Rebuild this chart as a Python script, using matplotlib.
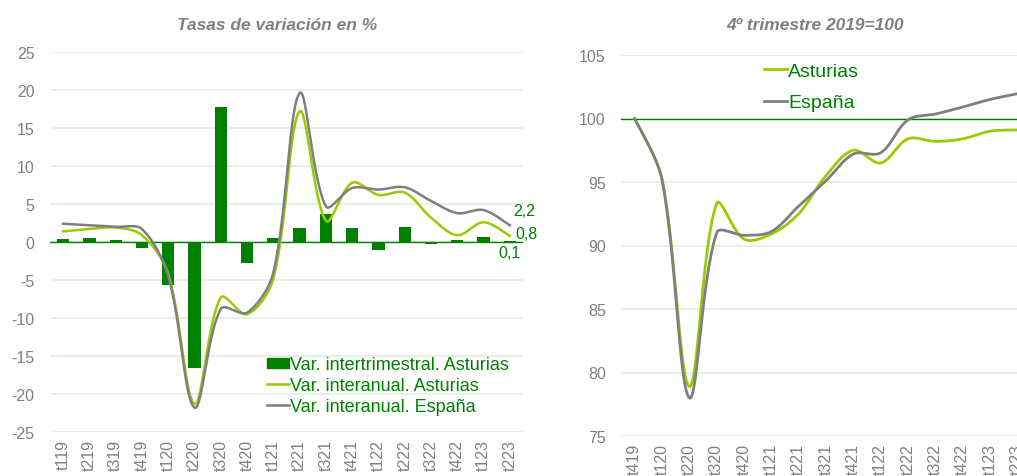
import numpy as np
import matplotlib
matplotlib.use("Agg")
import matplotlib.pyplot as plt
from matplotlib.patches import Patch
from matplotlib.lines import Line2D

plt.rcParams['font.family'] = ['Liberation Sans', 'DejaVu Sans']
plt.rcParams['axes.unicode_minus'] = False

# ── data ─────────────────────────────────────────────
trim_left = ["t119", "t219", "t319", "t419", "t120", "t220", "t320", "t420", "t121",
             "t221", "t321", "t421", "t122", "t222", "t322", "t422", "t123", "t223"]
var_trim_ast = [0.4, 0.5, 0.3, -0.8, -5.6, -16.6, 17.8, -2.7, 0.5,
                1.8, 3.7, 1.9, -1.1, 2.0, -0.3, 0.3, 0.7, 0.1]
var_anual_ast = [1.4, 1.7, 1.9, 0.9, -4.2, -21.3, -7.3, -9.5, -4.8,
                 17.2, 2.8, 7.8, 6.2, 6.5, 3.2, 0.9, 2.6, 0.8]
var_anual_esp = [2.4, 2.2, 2.0, 1.7, -4.5, -21.8, -8.8, -9.3, -4.0,
                 19.6, 4.7, 7.1, 6.9, 7.2, 5.4, 3.8, 4.2, 2.2]

trim_right = ["t419", "t120", "t220", "t320", "t420", "t121", "t221", "t321",
              "t421", "t122", "t222", "t322", "t422", "t123", "t223"]
indice_ast = [100, 95.2, 78.9, 93.3, 90.5, 90.9, 92.5, 95.5,
              97.5, 96.5, 98.4, 98.2, 98.4, 99.0, 99.1]
indice_esp = [100, 95.2, 78.0, 91.0, 90.8, 91.1, 93.1, 95.1,
              97.2, 97.3, 99.9, 100.35, 100.9, 101.5, 101.95]

# ── colours ──────────────────────────────────────────
DARK_GREEN = "#008000"
LIGHT_GREEN = "#99CC00"
GREY = "#7F7F7F"
GRID = "#E3EEE0"
TXT_GREY = "#808080"


def smooth(ax, y, n=30):
    """Línea suavizada estilo Excel: Bezier en coordenadas de pantalla,
    con tangentes repartidas según la longitud de cada tramo."""
    x = np.arange(len(y), dtype=float)
    P = ax.transData.transform(np.column_stack([x, np.asarray(y, dtype=float)]))
    t = np.linspace(0, 1, n, endpoint=False)[:, None]
    out = []
    m = len(P)
    for i in range(m - 1):
        p0, p1, p2 = P[max(i - 1, 0)], P[i], P[i + 1]
        p3 = P[min(i + 2, m - 1)]
        d01 = np.hypot(*(p1 - p0)); d12 = np.hypot(*(p2 - p1)); d23 = np.hypot(*(p3 - p2))
        c1 = p1 + (p2 - p0) * (d12 / (d01 + d12) / 3 if d01 > 0 else 1 / 3 * 0.5)
        c2 = p2 - (p3 - p1) * (d12 / (d12 + d23) / 3 if d23 > 0 else 1 / 3 * 0.5)
        b = (1 - t)**3 * p1 + 3 * (1 - t)**2 * t * c1 + 3 * (1 - t) * t**2 * c2 + t**3 * p2
        out.append(b)
    out.append(P[-1:])
    D = ax.transData.inverted().transform(np.vstack(out))
    return D[:, 0], D[:, 1]


def style_axes(ax, xpad=5):
    for s in ax.spines.values():
        s.set_visible(False)
    ax.tick_params(axis='both', length=0, colors=TXT_GREY, labelsize=11.5)
    ax.tick_params(axis='y', pad=11)
    ax.tick_params(axis='x', pad=xpad)
    ax.grid(axis='y', color=GRID, linewidth=1.2)
    ax.set_axisbelow(True)


fig = plt.figure(figsize=(10.17, 4.77), dpi=100)

# ── izquierda: tasas de variación ────────────────────
ax1 = fig.add_axes([50 / 1017, 44 / 477, 473 / 1017, 380 / 477])
x1 = np.arange(len(trim_left))
ax1.set_xlim(-0.5, len(trim_left) - 0.5)
ax1.set_ylim(-25, 25)
ax1.set_yticks(range(-25, 26, 5))
ax1.set_xticks(x1)
ax1.set_xticklabels(trim_left, rotation=90)
style_axes(ax1)

ax1.bar(x1, var_trim_ast, width=0.47, color=DARK_GREEN, zorder=2)
ax1.axhline(0, color=DARK_GREEN, linewidth=1.0, zorder=2)
sx, sy = smooth(ax1, var_anual_ast)
ax1.plot(sx, sy, color=LIGHT_GREEN, linewidth=1.8, zorder=3)
sx, sy = smooth(ax1, var_anual_esp)
ax1.plot(sx, sy, color=GREY, linewidth=1.8, zorder=3)

last = len(trim_left) - 1
ax1.annotate(f"{var_anual_esp[-1]:.1f}".replace(".", ","), (last, var_anual_esp[-1]),
             xytext=(10, 11), textcoords='offset points', color=DARK_GREEN,
             fontsize=11.5, ha='center', va='center', annotation_clip=False)
ax1.annotate(f"{var_anual_ast[-1]:.1f}".replace(".", ","), (last, var_anual_ast[-1]),
             xytext=(12, 2), textcoords='offset points', color=DARK_GREEN,
             fontsize=11.5, ha='center', va='center', annotation_clip=False)
ax1.annotate(f"{var_trim_ast[-1]:.1f}".replace(".", ","), (last, var_trim_ast[-1]),
             xytext=(0, -8), textcoords='offset points', color=DARK_GREEN,
             fontsize=11.5, ha='center', va='center', annotation_clip=False)

handles1 = [Patch(color=DARK_GREEN),
            Line2D([], [], color=LIGHT_GREEN, linewidth=1.8),
            Line2D([], [], color=GREY, linewidth=1.8)]
labels1 = ["Var. intertrimestral. Asturias", "Var. interanual. Asturias",
           "Var. interanual. España"]
leg1 = ax1.legend(handles1, labels1, loc='upper left', bbox_to_anchor=(0.459, 0.199),
                  frameon=False, fontsize=13, borderpad=0, borderaxespad=0,
                  handlelength=1.2, handleheight=0.55, handletextpad=0.05,
                  labelspacing=0.22)
for t in leg1.get_texts():
    t.set_color(DARK_GREEN)

fig.text(277 / 1017, 1 - 25 / 477, "Tasas de variación en %", ha='center', va='center',
         fontsize=12.5, fontweight='bold', fontstyle='italic', color=TXT_GREY)

# ── derecha: índice 4º trimestre 2019 = 100 ──────────
ax2 = fig.add_axes([621 / 1017, 40 / 477, 410 / 1017, 381 / 477])
x2 = np.arange(len(trim_right))
ax2.set_xlim(-0.5, len(trim_right) - 0.5)
ax2.set_ylim(75, 105)
ax2.set_yticks(range(75, 106, 5))
ax2.set_xticks(x2)
ax2.set_xticklabels(trim_right, rotation=90)
style_axes(ax2)

ax2.axhline(100, color=DARK_GREEN, linewidth=1.0, zorder=2)
sx, sy = smooth(ax2, indice_ast)
ax2.plot(sx, sy, color=LIGHT_GREEN, linewidth=2.0, zorder=3, label="Asturias")
sx, sy = smooth(ax2, indice_esp)
ax2.plot(sx, sy, color=GREY, linewidth=2.0, zorder=3, label="España")

leg2 = ax2.legend(loc='upper left', bbox_to_anchor=(0.349, 0.98), frameon=False,
                  fontsize=14, borderpad=0, borderaxespad=0, handlelength=1.2,
                  handletextpad=0.05, labelspacing=0.7)
for t in leg2.get_texts():
    t.set_color(DARK_GREEN)

fig.text(815 / 1017, 1 - 25 / 477, "4º trimestre 2019=100", ha='center', va='center',
         fontsize=12.5, fontweight='bold', fontstyle='italic', color=TXT_GREY)

fig.savefig("out.png", dpi=100)
